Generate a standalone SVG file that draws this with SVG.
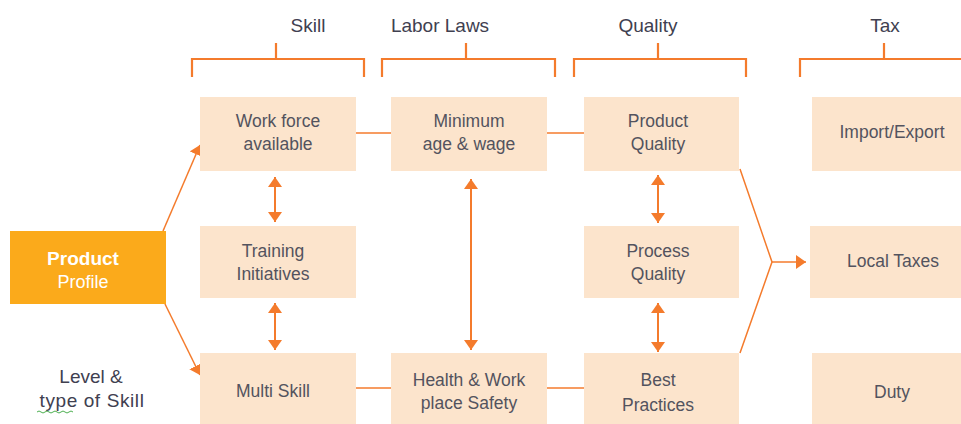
<svg xmlns="http://www.w3.org/2000/svg" width="961" height="424" viewBox="0 0 961 424">
<style>
.box{fill:#FCE4CC}
.t{font-family:"Liberation Sans",Arial,sans-serif;font-size:17.5px;fill:#53535e;text-anchor:middle}
.h{font-family:"Liberation Sans",Arial,sans-serif;font-size:19px;fill:#404050;text-anchor:middle}
.ln{stroke:#F47B2C;stroke-width:1.5;fill:none}
.ar{stroke:#F47B2C;stroke-width:2;fill:none}
.br{stroke:#F47B2C;stroke-width:2.2;fill:none}
</style>
<defs>
<marker id="ah" viewBox="0 0 10 14" refX="10" refY="7" markerWidth="10" markerHeight="14" markerUnits="userSpaceOnUse" orient="auto-start-reverse">
<path d="M0,0 L10,7 L0,14 z" fill="#F47B2C"/>
</marker>
</defs>
<rect width="961" height="424" fill="#ffffff"/>
<g id="headers">
<text class="h" x="308" y="32">Skill</text>
<text class="h" x="440" y="32">Labor Laws</text>
<text class="h" x="648" y="32">Quality</text>
<text class="h" x="885" y="32">Tax</text>
<path class="br" d="M192,77 V59 H364 V77 M276,43 V59"/>
<path class="br" d="M382,77 V59 H555 V77 M466,43 V59"/>
<path class="br" d="M574,77 V59 H746 V77 M658,43 V59"/>
<path class="br" d="M800,77 V59 H965 M884,43 V59"/>
</g>
<g id="connectors">
<line class="ln" x1="356" y1="133" x2="391" y2="133"/>
<line class="ln" x1="547" y1="133" x2="584" y2="133"/>
<line class="ln" x1="356" y1="388" x2="391" y2="388"/>
<line class="ln" x1="547" y1="388" x2="584" y2="388"/>
<line class="ar" x1="275" y1="177" x2="275" y2="222" marker-start="url(#ah)" marker-end="url(#ah)"/>
<line class="ar" x1="275" y1="303" x2="275" y2="350" marker-start="url(#ah)" marker-end="url(#ah)"/>
<line class="ar" x1="471" y1="179" x2="471" y2="350" marker-start="url(#ah)" marker-end="url(#ah)"/>
<line class="ar" x1="658" y1="175" x2="658" y2="223" marker-start="url(#ah)" marker-end="url(#ah)"/>
<line class="ar" x1="658" y1="303" x2="658" y2="352" marker-start="url(#ah)" marker-end="url(#ah)"/>
<line class="ln" x1="163" y1="231" x2="200" y2="145" marker-end="url(#ah)"/>
<line class="ln" x1="165" y1="304" x2="200" y2="375" marker-end="url(#ah)"/>
<polyline class="ln" points="740,169 772,262 740,353"/>
<line class="ln" x1="772" y1="262" x2="806" y2="262" marker-end="url(#ah)"/>
</g>
<g id="product-profile">
<rect x="10" y="231" width="156" height="73" fill="#FBAA1B"/>
<text x="83" y="265" font-family="Liberation Sans,Arial,sans-serif" font-size="19" font-weight="bold" fill="#ffffff" text-anchor="middle">Product</text>
<text x="83" y="288" font-family="Liberation Sans,Arial,sans-serif" font-size="18" fill="#ffffff" text-anchor="middle">Profile</text>
</g>
<g id="level-type">
<text class="h" x="91" y="383" style="font-size:19px">Level &amp;</text>
<text class="h" x="92" y="407" style="font-size:19px;letter-spacing:0.6px">type of Skill</text>
<path d="M37,412 q2,-2 4,0 t4,0 t4,0 t4,0 t4,0 t4,0 t4,0 t4,0 t4,0" stroke="#4CAF50" stroke-width="1" fill="none"/>
</g>
<g id="work-force">
<rect class="box" x="200" y="97" width="156" height="74"/>
<text class="t" x="278" y="127">Work force</text>
<text class="t" x="278" y="150">available</text>
</g>
<g id="training">
<rect class="box" x="200" y="226" width="156" height="72"/>
<text class="t" x="273" y="257">Training</text>
<text class="t" x="273" y="280">Initiatives</text>
</g>
<g id="multi-skill">
<rect class="box" x="200" y="353" width="156" height="71"/>
<text class="t" x="273" y="397">Multi Skill</text>
</g>
<g id="minimum-age">
<rect class="box" x="391" y="97" width="156" height="74"/>
<text class="t" x="469" y="127">Minimum</text>
<text class="t" x="469" y="150">age &amp; wage</text>
</g>
<g id="health-safety">
<rect class="box" x="391" y="353" width="156" height="71"/>
<text class="t" x="469" y="386">Health  &amp; Work</text>
<text class="t" x="469" y="409">place Safety</text>
</g>
<g id="product-quality">
<rect class="box" x="584" y="97" width="155" height="74"/>
<text class="t" x="658" y="127">Product</text>
<text class="t" x="658" y="150">Quality</text>
</g>
<g id="process-quality">
<rect class="box" x="584" y="226" width="155" height="72"/>
<text class="t" x="658" y="257">Process</text>
<text class="t" x="658" y="280">Quality</text>
</g>
<g id="best-practices">
<rect class="box" x="584" y="353" width="155" height="71"/>
<text class="t" x="658" y="386">Best</text>
<text class="t" x="658" y="411">Practices</text>
</g>
<g id="import-export">
<rect class="box" x="812" y="97" width="149" height="74"/>
<text class="t" x="892" y="138">Import/Export</text>
</g>
<g id="local-taxes">
<rect class="box" x="810" y="226" width="151" height="72"/>
<text class="t" x="893" y="267">Local Taxes</text>
</g>
<g id="duty">
<rect class="box" x="812" y="353" width="149" height="71"/>
<text class="t" x="892" y="398">Duty</text>
</g>
</svg>
